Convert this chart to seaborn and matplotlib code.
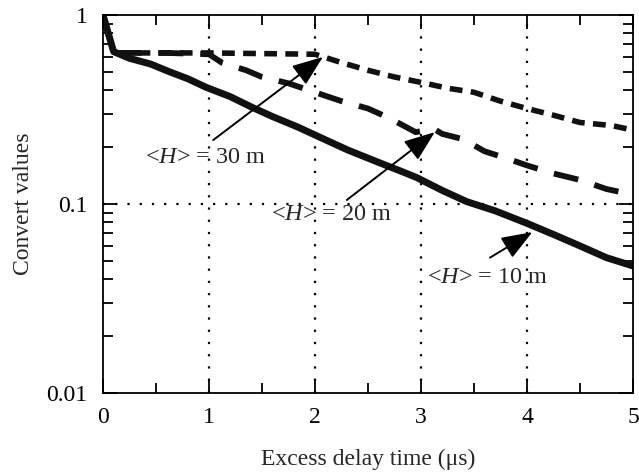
import matplotlib
matplotlib.use("Agg")
import matplotlib.pyplot as plt
import seaborn as sns
import pandas as pd
from matplotlib.ticker import LogLocator, FixedLocator, NullFormatter, MultipleLocator

# ---- data ----
x10 = [0, 0.1, 0.25, 0.45, 0.63, 0.8, 0.97, 1.2, 1.4, 1.6, 1.84, 2.05, 2.31, 2.6, 2.8, 2.96, 3.2, 3.43, 3.7, 4.0, 4.25, 4.5, 4.75, 5.0]
y10 = [1.0, 0.64, 0.59, 0.55, 0.50, 0.46, 0.415, 0.37, 0.326, 0.29, 0.255, 0.225, 0.193, 0.166, 0.150, 0.138, 0.118, 0.103, 0.092, 0.079, 0.069, 0.060, 0.052, 0.047]

x20 = [0, 0.1, 0.6, 1.0, 1.12, 1.35, 1.5, 1.75, 2.0, 2.25, 2.5, 2.7, 2.95, 3.12, 3.2, 3.4, 3.6, 3.8, 4.0, 4.25, 4.5, 4.75, 5.0]
y20 = [1.0, 0.63, 0.63, 0.62, 0.56, 0.51, 0.47, 0.435, 0.39, 0.35, 0.32, 0.285, 0.24, 0.25, 0.235, 0.22, 0.19, 0.175, 0.16, 0.145, 0.134, 0.12, 0.112]

x30 = [0, 0.1, 1.0, 2.0, 2.25, 2.5, 2.75, 3.0, 3.25, 3.5, 3.75, 4.0, 4.25, 4.5, 4.8, 5.0]
y30 = [1.0, 0.63, 0.63, 0.62, 0.56, 0.51, 0.47, 0.44, 0.41, 0.39, 0.35, 0.32, 0.295, 0.27, 0.26, 0.246]

labels = ["<$H$> = 10 m", "<$H$> = 20 m", "<$H$> = 30 m"]
x_ticks = [0, 1, 2, 3, 4, 5]
y_ticks = [0.01, 0.1, 1]
y_ticklabels = ["0.01", "0.1", "1"]
xlabel = "Excess delay time (\u03bcs)"
ylabel = "Convert values"

sns.set_theme(style="white")
plt.rcParams["font.family"] = ["Liberation Serif", "DejaVu Serif"]
plt.rcParams["mathtext.fontset"] = "custom"
plt.rcParams["mathtext.it"] = "Liberation Serif:italic"
plt.rcParams["mathtext.rm"] = "Liberation Serif"

fig = plt.figure(figsize=(6.39, 4.72), dpi=100)
ax = fig.add_axes([0.1612, 0.1674, 0.8294, 0.8008])

df10 = pd.DataFrame({"x": x10, "y": y10})
df20 = pd.DataFrame({"x": x20, "y": y20})
df30 = pd.DataFrame({"x": x30, "y": y30})

sns.lineplot(data=df30, x="x", y="y", ax=ax, color="#111111", lw=4.0,
             linestyle=(0, (2.3, 1.5)), sort=False)
sns.lineplot(data=df20, x="x", y="y", ax=ax, color="#111111", lw=4.2,
             linestyle=(0, (4.3, 2.9)), sort=False)
sns.lineplot(data=df10, x="x", y="y", ax=ax, color="#111111", lw=5.0, sort=False)

ax.set_yscale("log")
ax.set_xlim(0, 5)
ax.set_ylim(0.01, 1)

# grid lines (dotted)
for gx in [1, 2, 3, 4]:
    ax.axvline(gx, color="black", lw=1.6, linestyle=(0, (1, 4.5)), zorder=0)
ax.axhline(0.1, color="black", lw=1.6, linestyle=(0, (1, 4.5)), zorder=0)

ax.xaxis.set_major_locator(FixedLocator(x_ticks))
ax.xaxis.set_minor_locator(MultipleLocator(0.5))
ax.yaxis.set_major_locator(FixedLocator(y_ticks))
ax.set_yticklabels(y_ticklabels)
ax.yaxis.set_minor_locator(LogLocator(base=10, subs=range(2, 10)))
ax.yaxis.set_minor_formatter(NullFormatter())

ax.tick_params(which="both", direction="in", top=True, right=True, bottom=True, left=True,
               labelsize=17, colors="black")
ax.tick_params(axis="x", which="both", pad=10)
ax.tick_params(axis="y", which="both", pad=11)
ax.tick_params(which="major", length=10, width=1.3)
ax.tick_params(which="minor", length=7, width=1.3)
for s in ax.spines.values():
    s.set_color("black")
    s.set_linewidth(1.3)

ax.set_xlabel(xlabel, fontsize=17, labelpad=15)
ax.set_ylabel(ylabel, fontsize=17, labelpad=9)

arrow = dict(arrowstyle="-|>,head_length=1.0,head_width=0.38", color="black", lw=1.4,
             shrinkA=0, shrinkB=0, mutation_scale=19)

# label text positions, arrow tails and arrow tips (data coords)
ax.text(0.97, 0.177, labels[2], fontsize=17.5, ha="center", va="center")
ax.annotate("", xy=(2.075, 0.60), xytext=(1.04, 0.218), arrowprops=arrow)

ax.text(2.16, 0.0875, labels[1], fontsize=17.5, ha="center", va="center")
ax.annotate("", xy=(3.13, 0.240), xytext=(2.30, 0.105), arrowprops=arrow)

ax.text(3.63, 0.041, labels[0], fontsize=17.5, ha="center", va="center")
ax.annotate("", xy=(4.05, 0.071), xytext=(3.65, 0.052), arrowprops=arrow)

fig.savefig("out.png", dpi=100)
